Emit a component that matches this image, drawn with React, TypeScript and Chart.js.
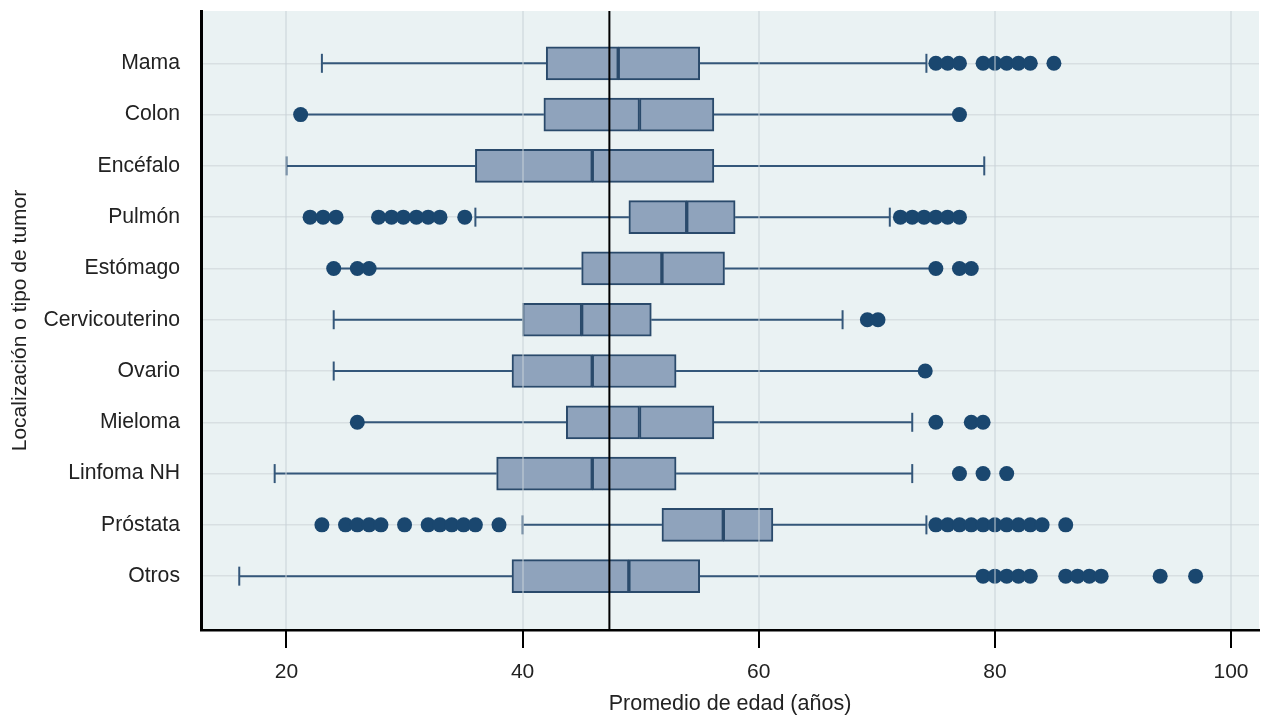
import React, { useEffect, useRef } from 'react';
import { Chart, registerables } from 'chart.js';

Chart.register(...registerables);

// ---------- data ----------
const categories = ['Mama', 'Colon', 'Encéfalo', 'Pulmón', 'Estómago', 'Cervicouterino', 'Ovario', 'Mieloma', 'Linfoma NH', 'Próstata', 'Otros'];
const whiskerLow = [23, 21.2, 20, 36, 24, 24, 24, 26, 19, 40, 16];
const q1 = [42, 41.8, 36, 49, 45, 40, 39.1, 43.7, 37.8, 51.8, 39.1];
const median = [48.1, 49.9, 45.9, 53.9, 51.8, 45, 45.9, 49.9, 45.9, 57, 49];
const q3 = [55, 56.2, 56.2, 58, 57.1, 50.9, 53, 56.2, 53, 61.2, 55];
const whiskerHigh = [74.2, 77, 79.1, 71.1, 75, 67.1, 74.1, 73, 73, 74.2, 79];
const capLow = [23, null, 20, 36, null, 24, 24, null, 19, 40, 16];
const capHigh = [74.2, null, 79.1, 71.1, null, 67.1, null, 73, 73, 74.2, null];

const outMama = [75, 76, 77, 79, 80, 81, 82, 83, 85];
const outColon = [21.2, 77];
const outEncefalo: number[] = [];
const outPulmon = [22, 23.1, 24.2, 27.8, 28.9, 29.9, 31, 32, 33, 35.1, 72, 73, 74, 75, 76, 77];
const outEstomago = [24, 26, 27, 75, 77, 78];
const outCervico = [69.2, 70.1];
const outOvario = [74.1];
const outMieloma = [26, 75, 78, 79];
const outLinfoma = [77, 79, 81];
const outProstata = [23, 25, 26, 27, 28, 30, 32, 33, 34, 35, 36, 38, 75, 76, 77, 78, 79, 80, 81, 82, 83, 84, 86];
const outOtros = [79, 80, 81, 82, 83, 86, 87, 88, 89, 94, 97];
const outliers = [outMama, outColon, outEncefalo, outPulmon, outEstomago, outCervico, outOvario, outMieloma, outLinfoma, outProstata, outOtros];

const meanAge = 47.35;
const xTickValues = [20, 40, 60, 80, 100];

// ---------- styles ----------
const FONT = "'Liberation Sans', Arial, Helvetica, sans-serif";
const NAVY = '#1a476f';
const BOX_FILL = '#8fa3bc';
const BOX_LINE = '#2a4a6b';
const WHISKER = '#34577a';
const PLOT_BG = '#eaf2f3';

const X_MIN = 12.76;
const X_MAX = 102.37;
const Y_MIN = -1.02;
const Y_MAX = 11.05;
const TICK_LEN = 18;

const bgPlugin = {
  id: 'plotBg',
  beforeDraw(chart: any) {
    const { ctx, chartArea: a, width, height } = chart;
    ctx.save();
    ctx.fillStyle = '#ffffff';
    ctx.fillRect(0, 0, width, height);
    ctx.fillStyle = PLOT_BG;
    ctx.fillRect(a.left, a.top, a.right - a.left, a.bottom - a.top);
    ctx.restore();
  },
};

// outward tick marks on the x axis, placed through the x scale
const tickMarkPlugin = {
  id: 'xTickMarks',
  afterDraw(chart: any) {
    const { ctx, chartArea: a } = chart;
    const xs = chart.scales.x;
    ctx.save();
    ctx.strokeStyle = '#000000';
    ctx.lineWidth = 2;
    xTickValues.forEach((v) => {
      const px = Math.round(xs.getPixelForValue(v));
      ctx.beginPath();
      ctx.moveTo(px, a.bottom);
      ctx.lineTo(px, a.bottom + TICK_LEN);
      ctx.stroke();
    });
    ctx.restore();
  },
};

export default function App() {
  const ref = useRef<HTMLCanvasElement>(null);

  useEffect(() => {
    if (!ref.current) return;

    const lowerBox = categories.map((_, i) => ({ y: i, x: [q1[i], median[i]] }));
    const upperBox = categories.map((_, i) => ({ y: i, x: [median[i], q3[i]] }));

    const whiskers: any[] = [];
    categories.forEach((_, i) => {
      whiskers.push({ x: whiskerLow[i], y: i }, { x: q1[i], y: i }, { x: null, y: null });
      whiskers.push({ x: q3[i], y: i }, { x: whiskerHigh[i], y: i }, { x: null, y: null });
    });

    const caps: any[] = [];
    categories.forEach((_, i) => {
      if (capLow[i] !== null) caps.push({ x: capLow[i], y: i });
      if (capHigh[i] !== null) caps.push({ x: capHigh[i], y: i });
    });

    const outPts: any[] = [];
    outliers.forEach((arr, i) => arr.forEach((v) => outPts.push({ x: v, y: i })));

    const chart = new Chart(ref.current, {
      type: 'bar',
      data: {
        datasets: [
          {
            type: 'line',
            data: [{ x: meanAge, y: Y_MIN }, { x: meanAge, y: Y_MAX }],
            borderColor: '#000000',
            borderWidth: 2,
            pointRadius: 0,
          } as any,
          {
            type: 'scatter',
            data: outPts,
            pointRadius: 7.5,
            pointBackgroundColor: NAVY,
            pointBorderColor: NAVY,
            pointBorderWidth: 0,
          } as any,
          {
            type: 'bar',
            data: lowerBox,
            backgroundColor: BOX_FILL,
            borderColor: BOX_LINE,
            borderWidth: 2,
            borderSkipped: false,
            barThickness: 33,
            grouped: false,
          } as any,
          {
            type: 'bar',
            data: upperBox,
            backgroundColor: BOX_FILL,
            borderColor: BOX_LINE,
            borderWidth: 2,
            borderSkipped: false,
            barThickness: 33,
            grouped: false,
          } as any,
          {
            type: 'scatter',
            data: caps,
            pointStyle: 'line',
            pointRotation: 90,
            pointRadius: 9.5,
            pointBorderWidth: 2,
            pointBorderColor: WHISKER,
            pointBackgroundColor: WHISKER,
          } as any,
          {
            type: 'line',
            data: whiskers,
            borderColor: WHISKER,
            borderWidth: 2,
            pointRadius: 0,
            spanGaps: false,
            tension: 0,
          } as any,
        ],
      },
      options: {
        indexAxis: 'y',
        animation: false,
        responsive: false,
        devicePixelRatio: 1,
        events: [],
        layout: { autoPadding: false, padding: { top: 11, right: 3, left: 0, bottom: 0 } },
        plugins: {
          legend: { display: false },
          tooltip: { enabled: false },
        },
        scales: {
          x: {
            type: 'linear',
            position: 'bottom',
            min: X_MIN,
            max: X_MAX,
            offset: false,
            afterBuildTicks: (s: any) => {
              s.ticks = xTickValues.map((v) => ({ value: v }));
            },
            afterFit: (s: any) => {
              s.height = 85;
              s.paddingLeft = 0;
              s.paddingRight = 0;
            },
            grid: {
              z: 1,
              color: 'rgba(200,210,215,0.5)',
              lineWidth: 2,
              offset: false,
              drawTicks: true,
              tickLength: TICK_LEN,
              tickColor: '#000000',
              tickWidth: 2,
            },
            border: { display: true, color: '#000000', width: 2.5, z: 2 },
            ticks: {
              font: { family: FONT, size: 21 },
              color: '#222222',
              padding: 12,
              maxRotation: 0,
              autoSkip: false,
            },
            title: {
              display: true,
              text: 'Promedio de edad (años)',
              font: { family: FONT, size: 21.5, lineHeight: 1 },
              color: '#222222',
              padding: { top: 0, bottom: 0 },
            },
          } as any,
          y: {
            type: 'linear',
            position: 'left',
            reverse: true,
            min: Y_MIN,
            max: Y_MAX,
            offset: false,
            afterBuildTicks: (s: any) => {
              s.ticks = categories.map((_, i) => ({ value: i }));
            },
            afterFit: (s: any) => {
              s.width = 201;
              s.paddingTop = 0;
              s.paddingBottom = 0;
            },
            grid: { color: '#d8dfe2', lineWidth: 1.5, drawTicks: false, offset: false },
            border: { display: true, color: '#000000', width: 3, z: 2 },
            ticks: {
              callback: (v: any) => categories[Math.round(Number(v))] ?? '',
              font: { family: FONT, size: 21.2 },
              color: '#222222',
              padding: 21,
              autoSkip: false,
            },
            title: {
              display: true,
              text: 'Localización o tipo de tumor',
              font: { family: FONT, size: 21, lineHeight: 1.2 },
              color: '#222222',
              padding: { top: 8, bottom: 0 },
            },
          } as any,
        },
      },
      plugins: [bgPlugin, tickMarkPlugin],
    });

    return () => chart.destroy();
  }, []);

  return (
    <div style={{ position: 'absolute', left: 0, top: 0, width: 1262, height: 715 }}>
      <canvas ref={ref} width={1262} height={715} style={{ width: 1262, height: 715, display: 'block' }} />
    </div>
  );
}
